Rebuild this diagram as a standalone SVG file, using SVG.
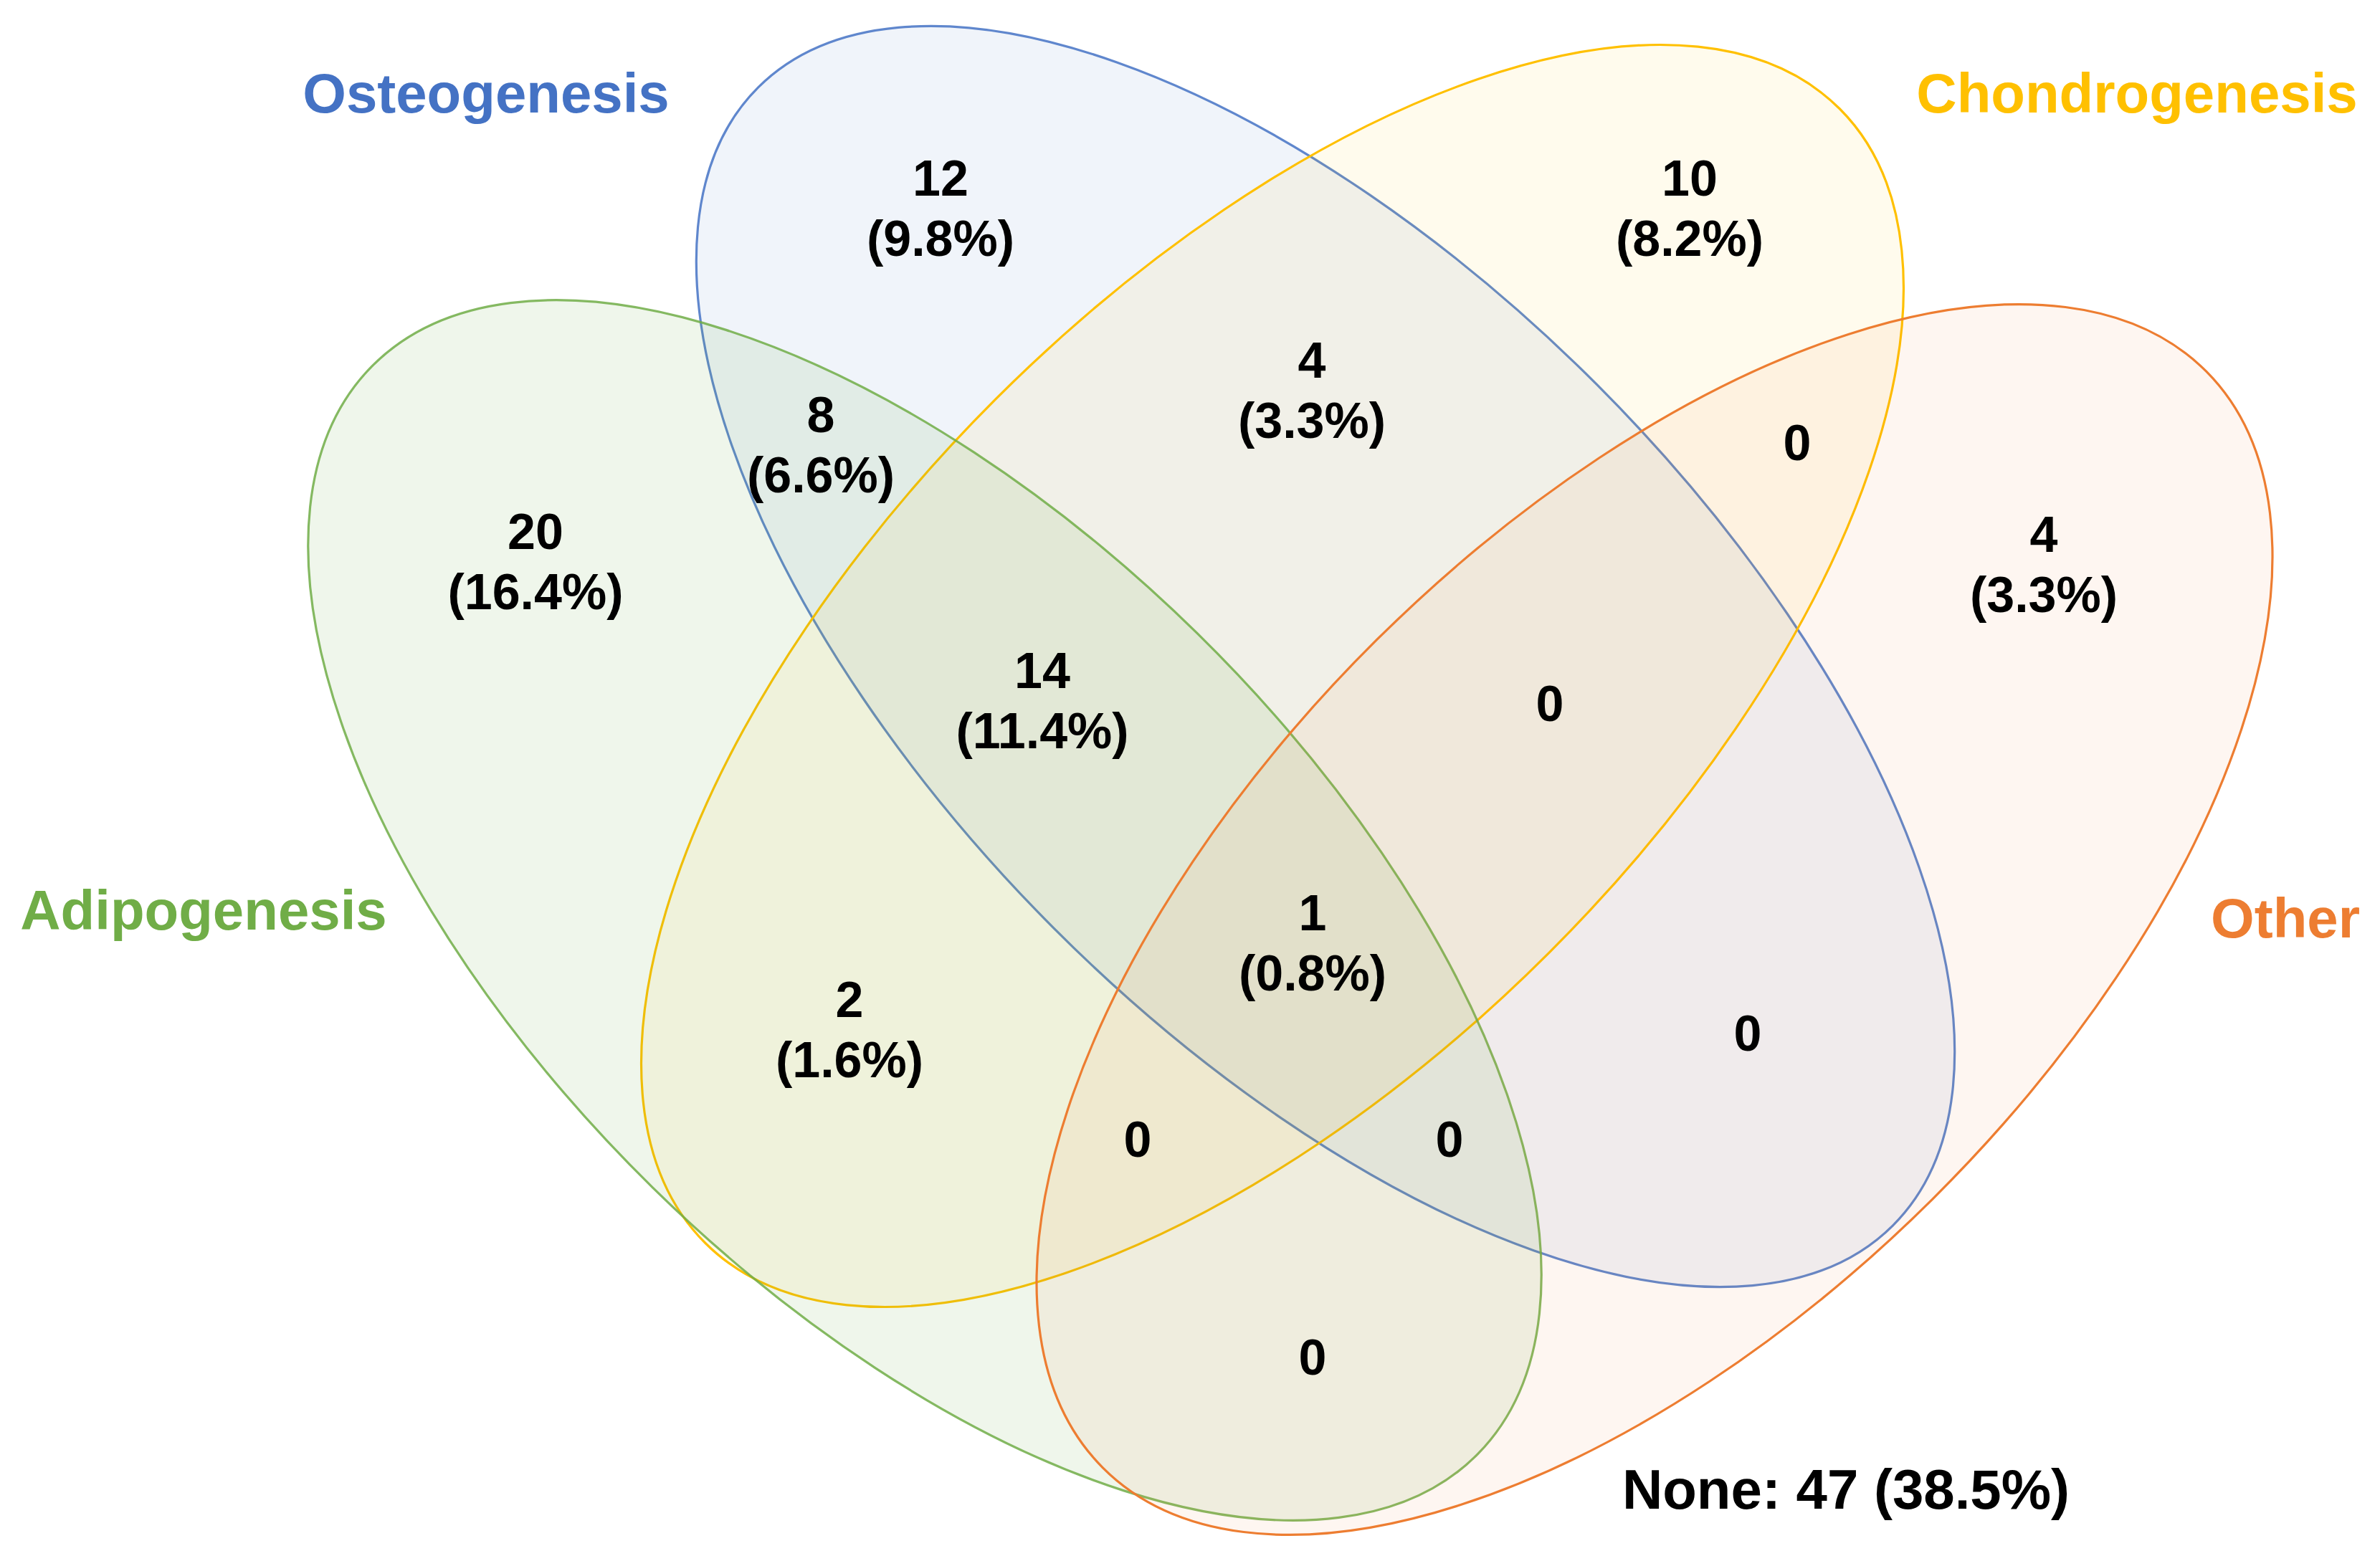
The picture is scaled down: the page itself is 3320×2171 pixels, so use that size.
<svg xmlns="http://www.w3.org/2000/svg" width="3320" height="2171" viewBox="0 0 3320 2171">
<style>
.set{stroke-width:3.2}
.num{font-family:"Liberation Sans",Arial,Helvetica,sans-serif;font-weight:bold;font-size:70px;fill:#000;text-anchor:middle}
.lab{font-family:"Liberation Sans",Arial,Helvetica,sans-serif;font-weight:bold;font-size:78px;text-anchor:middle}
</style>
<rect width="3320" height="2171" fill="#fff"/>
<g id="sets">
<g id="osteogenesis"><ellipse class="set" cx="1849" cy="916" rx="1121" ry="536" transform="rotate(45.1 1849 916)" fill="#4472C4" fill-opacity="0.08" stroke="#4472C4" stroke-opacity="0.85"/></g>
<g id="chondrogenesis"><ellipse class="set" cx="1775" cy="943" rx="1119" ry="546" transform="rotate(-45 1775 943)" fill="#FFC000" fill-opacity="0.07" stroke="#FFC000"/></g>
<g id="adipogenesis"><ellipse class="set" cx="1290" cy="1270" rx="1082" ry="542" transform="rotate(44.5 1290 1270)" fill="#70AD47" fill-opacity="0.11" stroke="#70AD47" stroke-opacity="0.85"/></g>
<g id="other"><ellipse class="set" cx="2308" cy="1283" rx="1085" ry="550" transform="rotate(-44.8 2308 1283)" fill="#ED7D31" fill-opacity="0.065" stroke="#ED7D31"/></g>
</g>
<g id="connectors"></g>
<g id="labels">
<text class="lab" x="678" y="157" fill="#4472C4">Osteogenesis</text>
<text class="lab" x="2981" y="157" fill="#FFC000">Chondrogenesis</text>
<text class="lab" x="284" y="1297" fill="#70AD47">Adipogenesis</text>
<text class="lab" x="3188" y="1308" fill="#ED7D31">Other</text>
</g>
<g id="counts">
<text class="num" x="1312" y="273">12</text><text class="num" x="1312" y="357">(9.8%)</text>
<text class="num" x="2357" y="273">10</text><text class="num" x="2357" y="357">(8.2%)</text>
<text class="num" x="1830" y="527">4</text><text class="num" x="1830" y="611">(3.3%)</text>
<text class="num" x="1145" y="603">8</text><text class="num" x="1145" y="687">(6.6%)</text>
<text class="num" x="2507" y="642">0</text>
<text class="num" x="747" y="766">20</text><text class="num" x="747" y="850">(16.4%)</text>
<text class="num" x="2851" y="770">4</text><text class="num" x="2851" y="854">(3.3%)</text>
<text class="num" x="1454" y="960">14</text><text class="num" x="1454" y="1044">(11.4%)</text>
<text class="num" x="2162" y="1006">0</text>
<text class="num" x="1831" y="1298">1</text><text class="num" x="1831" y="1382">(0.8%)</text>
<text class="num" x="1185" y="1419">2</text><text class="num" x="1185" y="1503">(1.6%)</text>
<text class="num" x="2438" y="1466">0</text>
<text class="num" x="1587" y="1614">0</text>
<text class="num" x="2022" y="1614">0</text>
<text class="num" x="1831" y="1918">0</text>
<text class="lab" x="2575" y="2105" fill="#000">None: 47 (38.5%)</text>
</g>
</svg>
